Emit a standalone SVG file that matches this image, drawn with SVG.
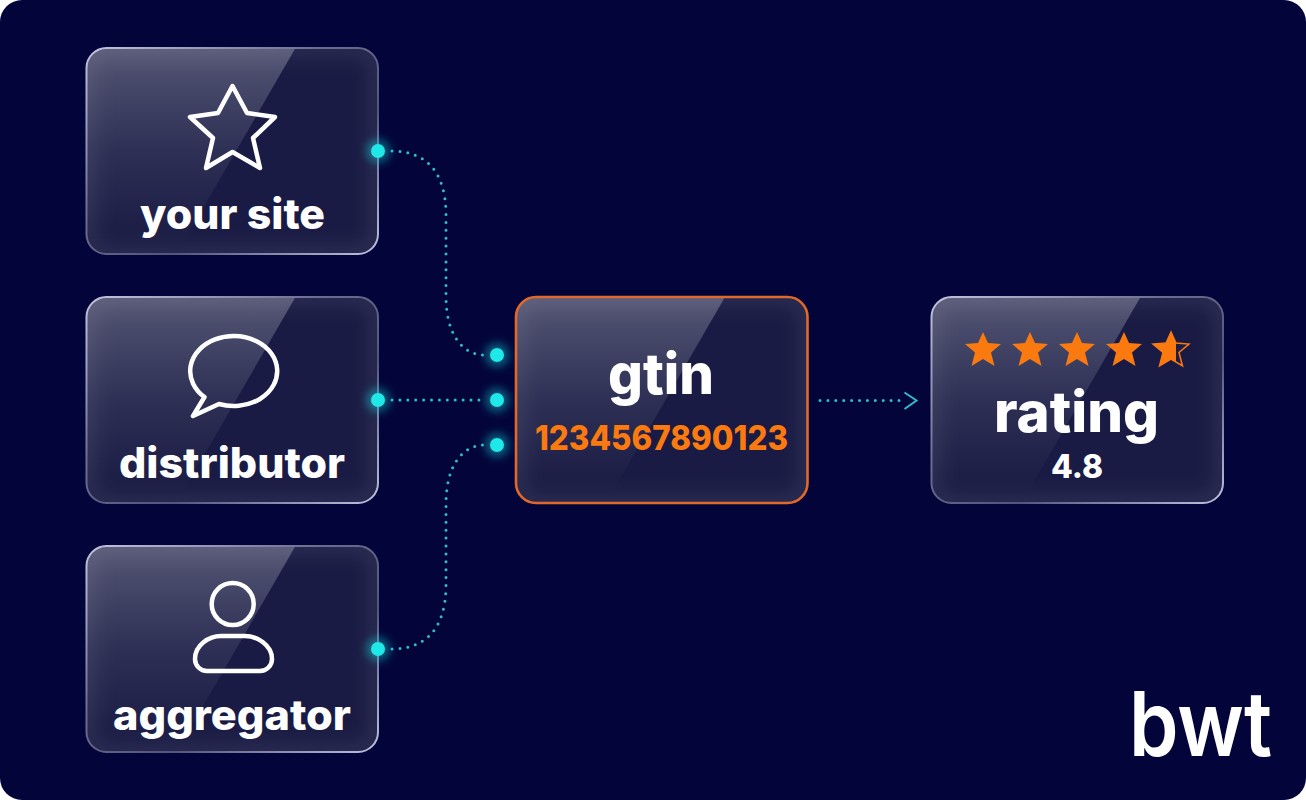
<svg xmlns="http://www.w3.org/2000/svg" xmlns:xlink="http://www.w3.org/1999/xlink" width="1306" height="800" viewBox="0 0 1306 800">
<style>
.t{font-family:Inter,"Liberation Sans",sans-serif;font-weight:800;fill:#fff;text-anchor:middle}
.o{fill:#fb7a10}
.i{fill:none;stroke:#fff;stroke-width:4.5;stroke-linejoin:round;stroke-linecap:round}
.c{fill:none;stroke:#2fbccb;stroke-width:3;stroke-linecap:round;stroke-dasharray:0 7.900}
.d{fill:#20e8e8}
.g{fill:#17e0e0;opacity:.4;filter:url(#b)}
</style>
<defs>
<filter id="b" x="-60%" y="-60%" width="220%" height="220%"><feGaussianBlur stdDeviation="4.500"/></filter>
<filter id="e" x="-10%" y="-10%" width="120%" height="120%"><feGaussianBlur stdDeviation="10"/></filter>
<linearGradient id="sh" x1="0" y1="0" x2="0" y2="1"><stop offset="0" stop-color="#fff" stop-opacity=".26"/><stop offset=".5" stop-color="#fff" stop-opacity=".09"/><stop offset=".95" stop-color="#fff" stop-opacity="0"/></linearGradient>
<linearGradient id="bd" x1="0" y1="0" x2="1" y2="1"><stop offset="0" stop-color="#c4c4e0"/><stop offset=".4" stop-color="#6c6c90"/><stop offset=".65" stop-color="#55557c"/><stop offset="1" stop-color="#c0c0e0"/></linearGradient>
<clipPath id="cc"><rect width="291.500" height="206" rx="20"/></clipPath>
<clipPath id="half"><rect x="-25" y="-25" width="30" height="50"/></clipPath>
<g id="glass">
<rect width="291.500" height="206" rx="20" fill="#191b44"/>
<g clip-path="url(#cc)">
<rect x="0" y="0" width="291.500" height="206" rx="20" fill="none" stroke="#fff" stroke-opacity=".1" stroke-width="14" filter="url(#e)"/>
<polygon points="0,0 209,0 90,206 0,206" fill="url(#sh)"/>
</g>
</g>
<polygon id="st" points="0,-17 5,-6 18,-5 8,3.500 11.500,17 0,10 -11.500,17 -8,3.500 -18,-5 -5,-6"/>
</defs>
<rect width="1306" height="800" fill="#fff"/>
<rect width="1306" height="800" rx="22" fill="#03053a"/>
<g id="connectors">
<path class="c" d="M392 151C426 151 446 172 446 215V296C446 334 462 355 485 355"/>
<path class="c" d="M392 400H486"/>
<path class="c" d="M392 649C426 649 446 628 446 585V504C446 466 462 445 485 445"/>
<path class="c" d="M820 400.500H905"/>
<path d="M904.500 392.500L916.500 400.500L904.500 409" fill="none" stroke="#2fbccb" stroke-width="2"/>
</g>
<g id="node-your-site">
<g transform="translate(86.500 48)"><use href="#glass"/><rect width="291.500" height="206" rx="20" fill="none" stroke="url(#bd)" stroke-width="2"/></g>
<polygon class="i" points="232.500,86 247,113 275,117 253,138 260,168 232.500,152 206,168 213,138 190,117 218,113"/>
<text class="t" x="232.500" y="229" font-size="42" textLength="185" lengthAdjust="spacingAndGlyphs">your site</text>
</g>
<g id="node-distributor">
<g transform="translate(86.500 297)"><use href="#glass"/><rect width="291.500" height="206" rx="20" fill="none" stroke="url(#bd)" stroke-width="2"/></g>
<path class="i" d="M219 404A43.500 35 0 1 0 204.500 397L193 416Z"/>
<text class="t" x="232" y="478" font-size="42" textLength="226" lengthAdjust="spacingAndGlyphs">distributor</text>
</g>
<g id="node-aggregator">
<g transform="translate(86.500 546)"><use href="#glass"/><rect width="291.500" height="206" rx="20" fill="none" stroke="url(#bd)" stroke-width="2"/></g>
<circle class="i" cx="232.700" cy="604" r="21"/>
<path class="i" d="M207 671H260A12 12 0 0 0 272 659C272 645 257 636 245 636H221C209 636 195 645 195 659A12 12 0 0 0 207 671Z"/>
<text class="t" x="232" y="730" font-size="42" textLength="238" lengthAdjust="spacingAndGlyphs">aggregator</text>
</g>
<g id="node-gtin">
<g transform="translate(516 297)"><use href="#glass"/><rect width="291.500" height="206" rx="20" fill="none" stroke="#e0692a" stroke-width="2.600"/></g>
<text class="t" x="661" y="394" font-size="56" textLength="106" lengthAdjust="spacingAndGlyphs">gtin</text>
<text class="t" style="fill:#fb7a10" x="661.500" y="450" font-size="34" textLength="253" lengthAdjust="spacingAndGlyphs">1234567890123</text>
</g>
<g id="node-rating">
<g transform="translate(931.500 297)"><use href="#glass"/><rect width="291.500" height="206" rx="20" fill="none" stroke="url(#bd)" stroke-width="2"/></g>
<use href="#st" x="983" y="349" class="o"/>
<use href="#st" x="1030" y="349" class="o"/>
<use href="#st" x="1077" y="349" class="o"/>
<use href="#st" x="1124" y="349" class="o"/>
<use href="#st" x="1171" y="349" fill="#1d1e45" stroke="#fb7a10" stroke-width="1.500"/>
<use href="#st" x="1171" y="349" class="o" clip-path="url(#half)"/>
<text class="t" x="1076.500" y="432" font-size="56" textLength="165" lengthAdjust="spacingAndGlyphs">rating</text>
<text class="t" x="1077" y="478" font-size="32" textLength="52" lengthAdjust="spacingAndGlyphs">4.8</text>
</g>
<g id="ports">
<circle class="g" cx="378" cy="151" r="12"/><circle class="d" cx="378" cy="151" r="7"/>
<circle class="g" cx="378" cy="400" r="12"/><circle class="d" cx="378" cy="400" r="7"/>
<circle class="g" cx="378" cy="649" r="12"/><circle class="d" cx="378" cy="649" r="7"/>
<circle class="g" cx="497" cy="355" r="12"/><circle class="d" cx="497" cy="355" r="7"/>
<circle class="g" cx="497" cy="400" r="12"/><circle class="d" cx="497" cy="400" r="7"/>
<circle class="g" cx="497" cy="445" r="12"/><circle class="d" cx="497" cy="445" r="7"/>
</g>
<g id="logo">
<text x="1129" y="756" font-family="Inter,'Liberation Sans',sans-serif" font-weight="600" font-size="90" fill="#fff" textLength="143" lengthAdjust="spacingAndGlyphs">bwt</text>
</g>
</svg>
